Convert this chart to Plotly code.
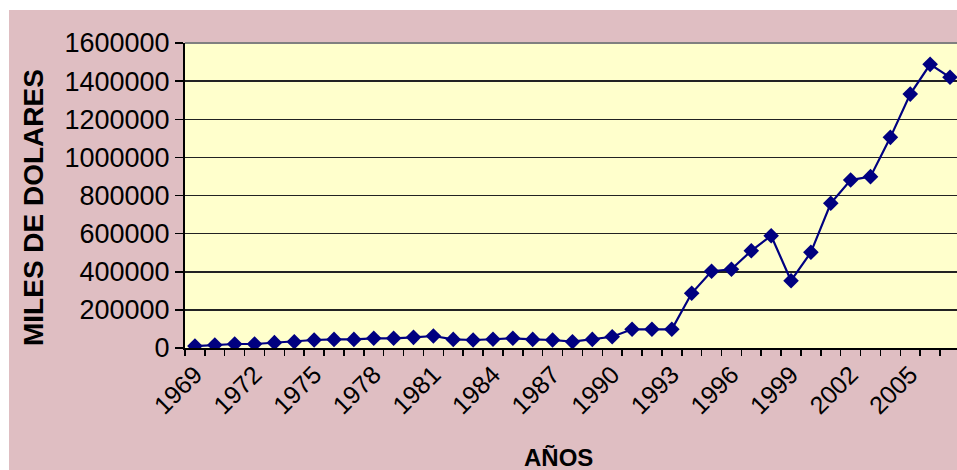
import plotly.graph_objects as go

years = list(range(1969, 2008))
values = [10000, 16000, 21000, 21000, 28000, 33000, 42000, 45000, 45000, 51000,
          51000, 56000, 63000, 45000, 42000, 46000, 51000, 45000, 42000, 33000,
          45000, 59000, 98000, 98000, 98000, 287000, 403000, 413000, 510000, 589000,
          353000, 502000, 759000, 881000, 899000, 1105000, 1332000, 1488000, 1420000]
tick_years = list(range(1969, 2006, 3))
y_ticks = list(range(0, 1600001, 200000))

W, H = 957, 470
ml, mr, mt, mb = 185, 0, 43, 122
pw, ph = W - ml - mr, H - mt - mb

def px_x(p):  # page pixel -> paper fraction
    return (p - ml) / pw

def px_y(p):
    return 1 - (p - mt) / ph

fig = go.Figure()
fig.add_trace(go.Scatter(
    x=years, y=values, mode="lines+markers",
    line=dict(color="#000080", width=2.2),
    marker=dict(symbol="diamond", size=12, color="#000080"),
    showlegend=False, hoverinfo="skip", cliponaxis=True))

fig.update_layout(
    width=W, height=H,
    margin=dict(l=ml, r=mr, t=mt, b=mb, pad=0, autoexpand=False),
    paper_bgcolor="#DFBEC2",
    plot_bgcolor="#FFFFCC",
    font=dict(family="Liberation Sans, Arial, sans-serif", color="black"),
    shapes=[
        dict(type="rect", xref="paper", yref="paper",
             x0=px_x(-2), x1=px_x(962), y0=px_y(10), y1=px_y(-2),
             fillcolor="white", line=dict(width=0), layer="below"),
        dict(type="rect", xref="paper", yref="paper",
             x0=px_x(-2), x1=px_x(9), y0=px_y(475), y1=px_y(-2),
             fillcolor="white", line=dict(width=0), layer="below"),
        dict(type="line", xref="paper", yref="paper",
             x0=0, x1=1, y0=1, y1=1, line=dict(color="#808080", width=2)),
    ],
    annotations=[
        dict(text="<b>MILES DE DOLARES</b>", xref="paper", yref="paper",
             x=px_x(33), y=px_y(208), textangle=-90, showarrow=False,
             font=dict(size=28, color="black"), xanchor="center", yanchor="middle"),
        dict(text="<b>AÑOS</b>", xref="paper", yref="paper",
             x=px_x(558), y=px_y(442), showarrow=False,
             font=dict(size=24, color="black"), xanchor="center", yanchor="top"),
    ],
)

fig.update_xaxes(
    range=[1968.5, 1968.5 + pw / 19.87],
    tickmode="array", tickvals=tick_years, ticktext=[str(y) for y in tick_years],
    tickangle=-45, tickfont=dict(size=25, color="black"),
    ticks="", showgrid=False, zeroline=False, automargin=False,
    showline=True, linecolor="black", linewidth=2,
    minor=dict(ticks="outside", tick0=1968.5, dtick=1, ticklen=6,
               tickcolor="black", tickwidth=1.5, showgrid=False),
    fixedrange=True,
)
fig.update_yaxes(
    range=[0, 1600000], automargin=False,
    tickmode="array", tickvals=y_ticks, ticktext=[str(v) for v in y_ticks],
    tickfont=dict(size=27, color="black"),
    ticks="outside", ticklen=8, tickcolor="black", tickwidth=1.5,
    showgrid=True, gridcolor="#222222", gridwidth=1.5,
    zeroline=False, showline=True, linecolor="black", linewidth=2,
    fixedrange=True,
)

fig.write_html(
    "out.html",
    config=dict(displayModeBar=False, staticPlot=True),
    post_script=("document.documentElement.style.overflow='hidden';"
                 "document.body.style.margin='0';"
                 "document.body.style.overflow='hidden';"),
)
